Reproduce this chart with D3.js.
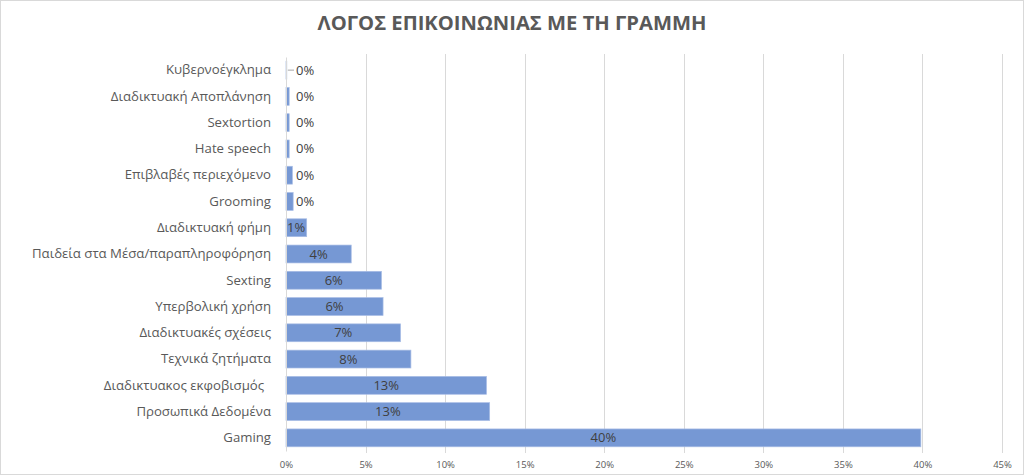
<!DOCTYPE html>
<html>
<head>
<meta charset="utf-8">
<script src="https://cdn.jsdelivr.net/npm/d3@7"></script>
<style>
  body { margin: 0; background: #fff; }
  svg { display: block; font-family: "Open Sans", "Noto Sans", sans-serif; }
</style>
</head>
<body>
<div id="chart"></div>
<script>
// categories, top to bottom
const categories = [
  "Κυβερνοέγκλημα",
  "Διαδικτυακή Αποπλάνηση",
  "Sextortion",
  "Hate speech",
  "Επιβλαβές περιεχόμενο",
  "Grooming",
  "Διαδικτυακή φήμη",
  "Παιδεία στα Μέσα/παραπληροφόρηση",
  "Sexting",
  "Υπερβολική χρήση",
  "Διαδικτυακές σχέσεις",
  "Τεχνικά ζητήματα",
  "Διαδικτυακος εκφοβισμός  ",
  "Προσωπικά Δεδομένα",
  "Gaming"
];
// share of calls, in %
const values = [0.05, 0.2, 0.2, 0.2, 0.4, 0.45, 1.3, 4.1, 6.0, 6.1, 7.2, 7.85, 12.6, 12.8, 39.9];
const xTicks = [0, 5, 10, 15, 20, 25, 30, 35, 40, 45];
const title = "ΛΟΓΟΣ ΕΠΙΚΟΙΝΩΝΙΑΣ ΜΕ ΤΗ ΓΡΑΜΜΗ";

const W = 1024, H = 475;
const margin = { top: 57, right: 22, bottom: 24, left: 286 };

const data = categories.map((c, i) => ({ cat: c, val: values[i] }));

const svg = d3.select("#chart").append("svg")
    .attr("width", W)
    .attr("height", H);

// outer frame
svg.append("rect")
    .attr("x", 0.5).attr("y", 0.5)
    .attr("width", W - 1).attr("height", H - 1)
    .attr("fill", "#fff")
    .attr("stroke", "#d9d9d9");

svg.append("text")
    .attr("x", 512)
    .attr("y", 30)
    .attr("text-anchor", "middle")
    .attr("font-size", "20.2px")
    .attr("font-weight", "bold")
    .attr("fill", "#595959")
    .text(title);

const x = d3.scaleLinear()
    .domain([0, 45])
    .range([margin.left, W - margin.right]);

const y = d3.scaleBand()
    .domain(categories)
    .range([margin.top, H - margin.bottom])
    .paddingInner(0.32)
    .paddingOuter(0.16);

// gridlines
svg.append("g")
    .selectAll("line")
    .data(xTicks.slice(1))
    .join("line")
    .attr("x1", d => Math.round(x(d)) + 0.5)
    .attr("x2", d => Math.round(x(d)) + 0.5)
    .attr("y1", margin.top - 3)
    .attr("y2", H - margin.bottom + 2)
    .attr("stroke", "#d9d9d9");

// x axis labels
const xAxis = svg.append("g")
    .attr("transform", `translate(0,${H - margin.bottom})`)
    .call(d3.axisBottom(x).tickValues(xTicks).tickFormat(d => d + "%").tickSize(0).tickPadding(10));
xAxis.select(".domain").remove();
xAxis.selectAll("text")
    .attr("fill", "#595959")
    .attr("font-size", "9.5px")
    .attr("font-family", "Open Sans, sans-serif");

// bars
svg.append("g")
    .selectAll("rect")
    .data(data)
    .join("rect")
    .attr("x", x(0))
    .attr("y", d => y(d.cat))
    .attr("width", d => x(d.val) - x(0))
    .attr("height", y.bandwidth())
    .attr("fill", "#7698d4")
    .attr("stroke", "#a8bde5")
    .attr("stroke-width", 0.7);

// y axis
const yAxis = svg.append("g")
    .attr("transform", `translate(${x(0)},0)`)
    .call(d3.axisLeft(y).tickSize(0).tickPadding(15));
yAxis.select(".domain")
    .attr("stroke", "#d9d9d9");
yAxis.selectAll("text")
    .attr("fill", "#595959")
    .attr("font-size", "13.2px")
    .attr("font-family", "Open Sans, sans-serif")
    .style("white-space", "pre");

// data labels
const labels = svg.append("g")
    .selectAll("text")
    .data(data)
    .join("text")
    .attr("y", d => y(d.cat) + y.bandwidth() / 2)
    .attr("dy", "0.35em")
    .attr("font-size", "13px")
    .attr("fill", "#404040")
    .text(d => d3.format(".0f")(d.val) + "%");

labels.each(function(d) {
    const t = d3.select(this);
    const w = this.getComputedTextLength();
    const bw = x(d.val) - x(0);
    if (bw > w + 4) {
        t.attr("x", x(0) + bw / 2).attr("text-anchor", "middle");
    } else if (d.val >= 1) {
        t.attr("x", x(0) + 1).attr("text-anchor", "start");
    } else {
        t.attr("x", x(0) + 10).attr("text-anchor", "start");
    }
});

// leader line for the thinnest bar
svg.append("line")
    .attr("x1", x(data[0].val) + 1)
    .attr("x2", x(0) + 8)
    .attr("y1", y(data[0].cat) + y.bandwidth() / 2)
    .attr("y2", y(data[0].cat) + y.bandwidth() / 2)
    .attr("stroke", "#a6a6a6");
</script>
</body>
</html>
